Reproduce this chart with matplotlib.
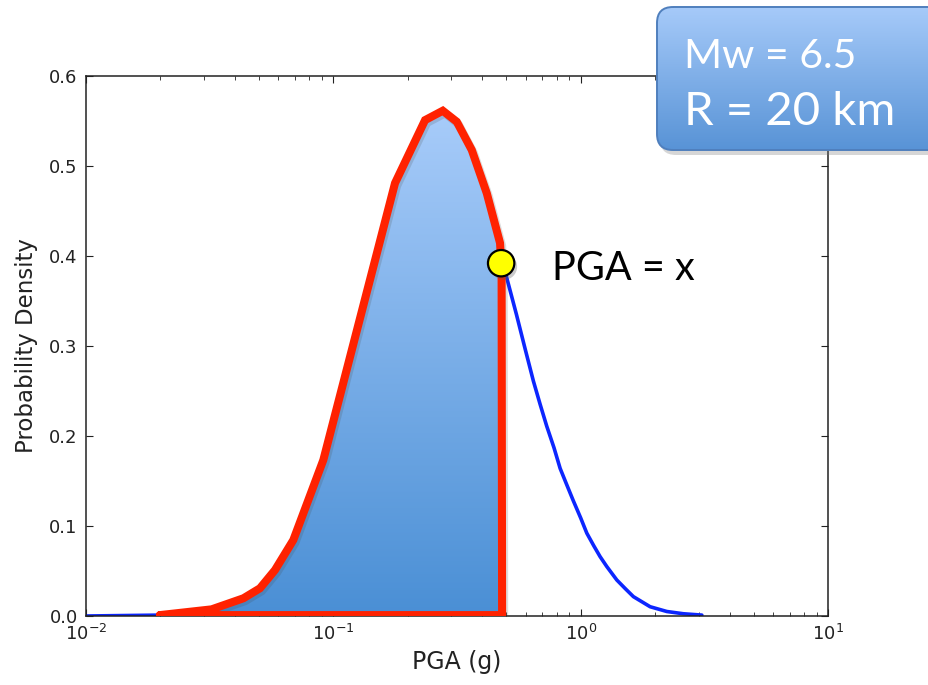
import numpy as np
import matplotlib
matplotlib.use("Agg")
import matplotlib.pyplot as plt
import matplotlib.patheffects as pe
from matplotlib.patches import Polygon, FancyBboxPatch
from matplotlib.colors import LinearSegmentedColormap

# ---- data ----
blue_x = [0.010, 0.020, 0.030, 0.040, 0.050, 0.060, 0.070, 0.090, 0.120, 0.150,
          0.180, 0.220, 0.260, 0.300, 0.350, 0.400, 0.450, 0.477, 0.500, 0.550,
          0.596, 0.644, 0.686, 0.729, 0.780, 0.826, 0.878, 0.934, 1.000, 1.059,
          1.130, 1.198, 1.275, 1.400, 1.520, 1.634, 1.909, 2.230, 2.600, 3.090]
blue_y = [0.000, 0.001, 0.006, 0.016, 0.029, 0.054, 0.087, 0.166, 0.298, 0.400,
          0.482, 0.532, 0.555, 0.552, 0.524, 0.482, 0.434, 0.392, 0.378, 0.335,
          0.297, 0.261, 0.235, 0.211, 0.187, 0.164, 0.146, 0.128, 0.109, 0.092,
          0.078, 0.066, 0.055, 0.040, 0.030, 0.0215, 0.0103, 0.005, 0.0025, 0.001]

red_x = [0.0199, 0.0322, 0.0433, 0.0505, 0.0581, 0.0689, 0.0911, 0.1776, 0.2349,
         0.2770, 0.3155, 0.3628, 0.4173, 0.4721, 0.4790, 0.4812, 0.0199]
red_y = [0.001, 0.0074, 0.0197, 0.0308, 0.0511, 0.0844, 0.1733, 0.481, 0.551,
         0.5614, 0.5492, 0.5178, 0.4697, 0.4144, 0.385, 0.001, 0.001]

pga_x = 0.477
pga_y = 0.392

xlim = (1e-2, 1e1)
ylim = (0.0, 0.6)
yticks = [0.0, 0.1, 0.2, 0.3, 0.4, 0.5, 0.6]

W, H = 929, 685
fig = plt.figure(figsize=(W / 100, H / 100), dpi=100)
ax = fig.add_axes([86 / W, 1 - 616 / H, (828 - 86) / W, (616 - 76) / H])

# blue density curve
ax.plot(blue_x, blue_y, color="#0c26ff", lw=2.6, zorder=2, solid_capstyle="round")

# gradient fill under the red outline
verts = list(zip(red_x, red_y))
poly = Polygon(verts, closed=True, facecolor="none", edgecolor="none")
ax.add_patch(poly)
grad_cmap = LinearSegmentedColormap.from_list("g", ["#4a8fd5", "#a8ccfa"])
ymax_fill = max(red_y)
grad = np.linspace(0, 1, 256).reshape(-1, 1)
im = ax.imshow(grad, cmap=grad_cmap, origin="lower", aspect="auto",
               extent=(0, 1, 0, ymax_fill / ylim[1]), transform=ax.transAxes,
               zorder=3, interpolation="bilinear")
im.set_clip_path(poly)

# red outline
ax.plot(red_x, red_y, color="#ff2200", lw=5.8, zorder=4,
        solid_joinstyle="miter", solid_capstyle="round",
        path_effects=[pe.SimpleLineShadow(offset=(1.5, -2), shadow_color="#444444", alpha=0.18),
                      pe.Normal()])

# yellow point
ax.plot([pga_x], [pga_y], marker="o", markersize=19, markerfacecolor="#ffff00",
        markeredgecolor="black", markeredgewidth=1.6, zorder=6, clip_on=False,
        path_effects=[pe.SimplePatchShadow(offset=(2, -2.5), shadow_rgbFace="#555555", alpha=0.3),
                      pe.Normal()])

ax.set_xscale("log")
ax.set_xlim(*xlim)
ax.set_ylim(*ylim)
ax.set_yticks(yticks)
ax.set_yticklabels([f"{v:.1f}" for v in yticks])
ax.tick_params(which="both", direction="in", top=True, right=True,
               labelsize=13, colors="#222222", pad=6)
ax.tick_params(which="major", length=5, width=0.8)
ax.tick_params(which="minor", length=3, width=0.6)
for s in ax.spines.values():
    s.set_linewidth(1.1)
    s.set_color("#222222")
ax.set_xlabel("PGA (g)", fontsize=17, color="#222222", labelpad=4)
ax.set_ylabel("Probability Density", fontsize=16.5, color="#222222", labelpad=8)

# overlay axes in pixel coordinates for annotations
bax = fig.add_axes([0, 0, 1, 1], zorder=10)
bax.set_xlim(0, W)
bax.set_ylim(H, 0)
bax.axis("off")

bax.text(552, 280, "PGA = x", fontsize=28.5, family=["Lato", "DejaVu Sans"],
         color="black", va="baseline", ha="left", zorder=5)

bx0, by0, bw, bh = 657, 7, 300, 143
shadow = FancyBboxPatch((bx0 + 3, by0 + 5), bw, bh,
                        boxstyle="round,pad=0,rounding_size=16",
                        facecolor="#7a7a7a", edgecolor="none", alpha=0.3, zorder=1)
bax.add_patch(shadow)
box = FancyBboxPatch((bx0, by0), bw, bh, boxstyle="round,pad=0,rounding_size=16",
                     facecolor="none", edgecolor="none", zorder=1)
bax.add_patch(box)
box_cmap = LinearSegmentedColormap.from_list("b", ["#a6caf9", "#5893d6"])
bim = bax.imshow(np.linspace(0, 1, 256).reshape(-1, 1), cmap=box_cmap, aspect="auto",
                 extent=(bx0, bx0 + bw, by0 + bh, by0), origin="upper",
                 interpolation="bilinear", zorder=2)
bim.set_clip_path(box)
edge = FancyBboxPatch((bx0, by0), bw, bh, boxstyle="round,pad=0,rounding_size=16",
                      facecolor="none", edgecolor="#4f7fbd", lw=1.4, zorder=3)
bax.add_patch(edge)
bax.set_xlim(0, W)
bax.set_ylim(H, 0)

bax.text(684, 68, "Mw = 6.5", fontsize=29.5, family=["Lato", "DejaVu Sans"],
         color="white", va="baseline", ha="left", zorder=5)
bax.text(684, 125, "R = 20 km", fontsize=34, family=["Lato", "DejaVu Sans"],
         color="white", va="baseline", ha="left", zorder=5)

fig.savefig("out.png", dpi=100)
